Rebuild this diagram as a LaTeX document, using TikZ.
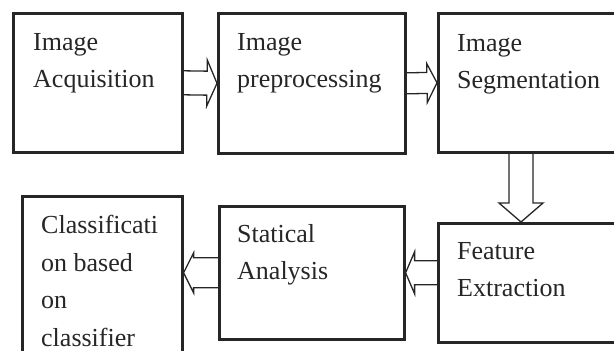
\documentclass[tikz,border=0pt]{standalone}
\usepackage{fontspec}
\setmainfont{Liberation Serif}
\usetikzlibrary{positioning, calc}
\definecolor{inkgray}{RGB}{38, 38, 38}

\begin{document}
\begin{tikzpicture}[
  x=1pt, y=-1pt,
  stage/.style={rectangle, draw=inkgray, line width=2.6pt, anchor=north west, inner sep=0pt},
  caption/.style={anchor=north west, align=left, inner sep=0pt, text=inkgray, font=\fontsize{26}{37.5}\selectfont},
  fat/.style n args={3}{draw=inkgray, line width=1.3pt, line join=miter, to path={
    ($(\tikztostart)!#1!90:(\tikztotarget)$)
    -- ($(\tikztotarget)!#3!(\tikztostart)!#1!90:(\tikztotarget)$)
    -- ($(\tikztotarget)!#3!(\tikztostart)!#2!90:(\tikztotarget)$)
    -- (\tikztotarget)
    -- ($(\tikztotarget)!#3!(\tikztostart)!#2!-90:(\tikztotarget)$)
    -- ($(\tikztotarget)!#3!(\tikztostart)!#1!-90:(\tikztotarget)$)
    -- ($(\tikztostart)!#1!-90:(\tikztotarget)$)}}
]
  \useasboundingbox (0,0) rectangle (614,351);
  \clip (0,0) rectangle (614,351);

  % processing stages
  \node[stage, minimum width=169pt, minimum height=139pt] (acq) at (12,12) {};
  \node[stage, minimum width=187pt, minimum height=140pt] (pre) at (217,12) {};
  \node[stage, minimum width=200pt, minimum height=139pt] (seg) at (437,12) {};
  \node[stage, minimum width=200pt, minimum height=119pt] (feat) at (437,222) {};
  \node[stage, minimum width=185pt, minimum height=133pt] (stat) at (218,205) {};
  \node[stage, minimum width=160pt, minimum height=200pt] (cls) at (21,195) {};

  % captions
  \node[caption, below right=21pt and 21pt of acq.north west] (acqtxt) {Image\\Acquisition};
  \node[caption, below right=21pt and 20pt of pre.north west] (pretxt) {Image\\preprocessing};
  \node[caption, below right=22pt and 20pt of seg.north west] (segtxt) {Image\\Segmentation};
  \node[caption, below right=20pt and 20pt of feat.north west] (feattxt) {Feature\\Extraction};
  \node[caption, below right=19pt and 19pt of stat.north west] (stattxt) {Statical\\Analysis};
  \node[caption, below right=20pt and 20pt of cls.north west] (clstxt) {Classificati\\on based\\on\\classifier};

  % block arrows
  \coordinate (segout) at ([xshift=84pt]seg.south west);
  \coordinate (featin) at ([xshift=84pt]feat.north west);
  \coordinate (featout) at (feat.west |- stat.east);
  \coordinate (clsin) at (cls.east |- stat.west);

  \draw[fat={12pt}{23pt}{10pt}] (acq.east) to (pre.west);
  \draw[fat={10.5pt}{19.5pt}{10pt}] (pre.east) to (seg.west);
  \draw[fat={12pt}{22pt}{19pt}] (segout) to (featin);
  \draw[fat={12pt}{21pt}{9pt}] (featout) to (stat.east);
  \draw[fat={15pt}{20pt}{10pt}] (stat.west) to (clsin);
\end{tikzpicture}
\end{document}
